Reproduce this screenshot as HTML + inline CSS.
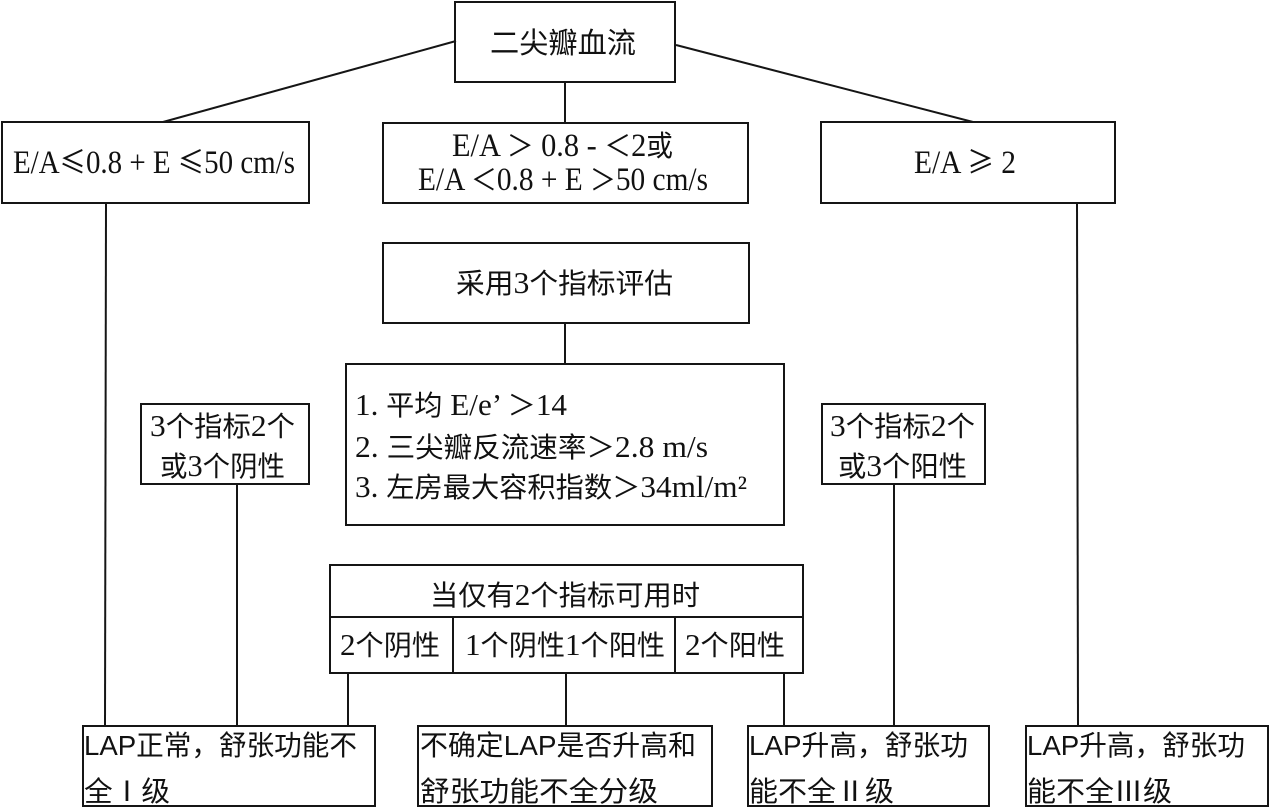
<!DOCTYPE html>
<html>
<head>
<meta charset="utf-8">
<style>
  html, body { margin:0; padding:0; background:#fff; }
  svg { display:block; }
  text { font-family: "Liberation Serif", "Noto Sans CJK SC", serif; fill:#111; }
  .cj { font-family: "Liberation Sans Narrow", "Liberation Sans", "Noto Sans CJK SC", sans-serif; }
  .k { font-family: "Noto Sans CJK SC", sans-serif; }
</style>
</head>
<body>
<svg width="1269" height="808" viewBox="0 0 1269 808" xmlns="http://www.w3.org/2000/svg">
  <g fill="none" stroke="#151515" stroke-width="2">
    <rect x="455" y="2" width="220" height="80"/>
    <line x1="456" y1="41" x2="163" y2="122"/>
    <line x1="676" y1="45" x2="973" y2="122"/>
    <line x1="565" y1="82" x2="565" y2="123"/>
    <rect x="2" y="122" width="307" height="81"/>
    <rect x="383" y="123" width="365" height="80"/>
    <rect x="821" y="122" width="294" height="81"/>
    <line x1="106" y1="203" x2="105" y2="726"/>
    <line x1="1077" y1="203" x2="1078" y2="726"/>
    <rect x="383" y="243" width="366" height="80"/>
    <line x1="565" y1="323" x2="565" y2="364"/>
    <rect x="346" y="364" width="438" height="161"/>
    <rect x="141" y="404" width="168" height="80"/>
    <line x1="237" y1="484" x2="237" y2="726"/>
    <rect x="822" y="404" width="163" height="80"/>
    <line x1="894" y1="484" x2="894" y2="726"/>
    <rect x="330" y="565" width="473" height="108"/>
    <line x1="330" y1="617" x2="803" y2="617"/>
    <line x1="453" y1="617" x2="453" y2="673"/>
    <line x1="675" y1="617" x2="675" y2="673"/>
    <line x1="348" y1="673" x2="348" y2="726"/>
    <line x1="566" y1="673" x2="566" y2="726"/>
    <line x1="784" y1="673" x2="784" y2="726"/>
    <rect x="83" y="726" width="292" height="80"/>
    <rect x="418" y="726" width="294" height="80"/>
    <rect x="748" y="726" width="241" height="80"/>
    <rect x="1026" y="726" width="242" height="80"/>
  </g>

  <text x="490" y="53" font-size="29" textLength="146" lengthAdjust="spacingAndGlyphs">二尖瓣血流</text>

  <text x="13" y="173" font-size="33" textLength="282" lengthAdjust="spacingAndGlyphs">E/A<tspan class="k" font-size="30">≤</tspan>0.8 + E <tspan class="k" font-size="30">≤</tspan>50 cm/s</text>
  <text x="452" y="156" font-size="33" textLength="221" lengthAdjust="spacingAndGlyphs">E/A <tspan class="k" font-size="29">＞</tspan> 0.8 - <tspan class="k" font-size="29">＜</tspan>2<tspan class="k" font-size="29">或</tspan></text>
  <text x="418" y="190" font-size="33" textLength="290" lengthAdjust="spacingAndGlyphs">E/A <tspan class="k" font-size="29">＜</tspan>0.8 + E <tspan class="k" font-size="29">＞</tspan>50 cm/s</text>
  <text x="914" y="173" font-size="33" textLength="102" lengthAdjust="spacingAndGlyphs">E/A <tspan class="k" font-size="30">≥</tspan> 2</text>

  <text x="456" y="293" font-size="28" textLength="217" lengthAdjust="spacingAndGlyphs">采用<tspan font-size="31">3</tspan>个指标评估</text>

  <text x="355" y="415" font-size="31" textLength="212" lengthAdjust="spacingAndGlyphs">1.  <tspan class="k" font-size="28">平均</tspan> E/e’ <tspan class="k" font-size="28">＞</tspan>14</text>
  <text x="355" y="457" font-size="31" textLength="353" lengthAdjust="spacingAndGlyphs">2.  <tspan class="k" font-size="28">三尖瓣反流速率＞</tspan>2.8 m/s</text>
  <text x="355" y="497" font-size="31" textLength="392" lengthAdjust="spacingAndGlyphs">3.  <tspan class="k" font-size="28">左房最大容积指数＞</tspan>34ml/m²</text>

  <text x="150" y="436" font-size="28" textLength="145" lengthAdjust="spacingAndGlyphs"><tspan font-size="31">3</tspan>个指标<tspan font-size="31">2</tspan>个</text>
  <text x="160" y="476" font-size="28" textLength="125" lengthAdjust="spacingAndGlyphs">或<tspan font-size="31">3</tspan>个阴性</text>
  <text x="830" y="436" font-size="28" textLength="145" lengthAdjust="spacingAndGlyphs"><tspan font-size="31">3</tspan>个指标<tspan font-size="31">2</tspan>个</text>
  <text x="838" y="476" font-size="28" textLength="129" lengthAdjust="spacingAndGlyphs">或<tspan font-size="31">3</tspan>个阳性</text>

  <text x="430" y="605" font-size="28" textLength="270" lengthAdjust="spacingAndGlyphs">当仅有<tspan font-size="31">2</tspan>个指标可用时</text>
  <text x="340" y="655" font-size="28" textLength="100" lengthAdjust="spacingAndGlyphs"><tspan font-size="31">2</tspan>个阴性</text>
  <text x="465" y="655" font-size="28" textLength="200" lengthAdjust="spacingAndGlyphs"><tspan font-size="31">1</tspan>个阴性<tspan font-size="31">1</tspan>个阳性</text>
  <text x="685" y="655" font-size="28" textLength="100" lengthAdjust="spacingAndGlyphs"><tspan font-size="31">2</tspan>个阳性</text>

  <text class="cj" x="84" y="755" font-size="28" textLength="273" lengthAdjust="spacingAndGlyphs">LAP正常，舒张功能不</text>
  <text class="cj" x="84" y="801" font-size="28" textLength="86" lengthAdjust="spacingAndGlyphs">全Ⅰ级</text>
  <text class="cj" x="420" y="755" font-size="28" textLength="276" lengthAdjust="spacingAndGlyphs">不确定LAP是否升高和</text>
  <text class="cj" x="420" y="801" font-size="28" textLength="238" lengthAdjust="spacingAndGlyphs">舒张功能不全分级</text>
  <text class="cj" x="749" y="755" font-size="28" textLength="219" lengthAdjust="spacingAndGlyphs">LAP升高，舒张功</text>
  <text class="cj" x="749" y="801" font-size="28" textLength="145" lengthAdjust="spacingAndGlyphs">能不全Ⅱ级</text>
  <text class="cj" x="1027" y="755" font-size="28" textLength="218" lengthAdjust="spacingAndGlyphs">LAP升高，舒张功</text>
  <text class="cj" x="1027" y="801" font-size="28" textLength="145" lengthAdjust="spacingAndGlyphs">能不全Ⅲ级</text>
</svg>
</body>
</html>
